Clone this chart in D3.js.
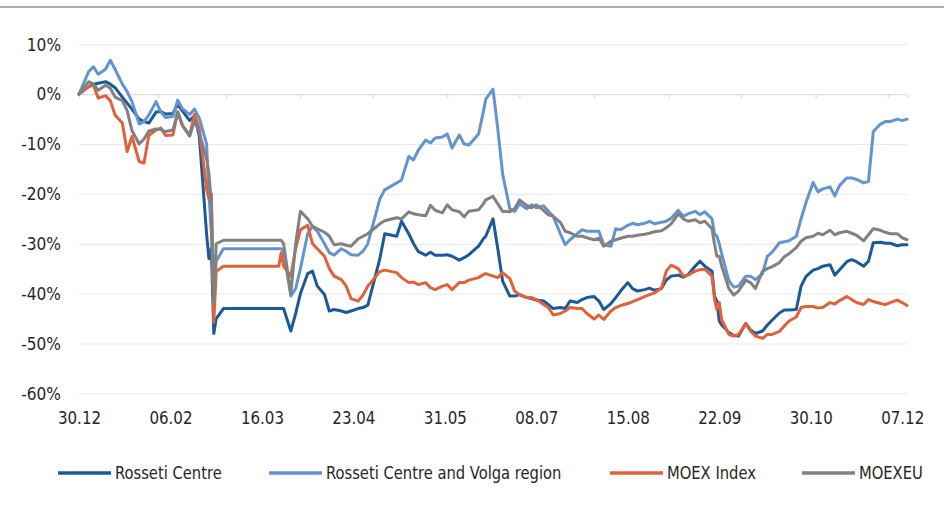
<!DOCTYPE html>
<html><head><meta charset="utf-8">
<script src="https://cdn.jsdelivr.net/npm/d3@7"></script>
<style>
body{margin:0;background:#fff;}
svg{display:block;}
text{font-family:"Liberation Sans Narrow","Arial Narrow","DejaVu Sans Condensed",sans-serif;fill:#262626;}
</style></head>
<body>
<svg id="chart" width="944" height="508"></svg>
<script>
const dates = ["2021-12-30",
"2022-01-03","2022-01-05","2022-01-07","2022-01-10","2022-01-12","2022-01-14","2022-01-17","2022-01-19","2022-01-21","2022-01-24","2022-01-26","2022-01-28","2022-01-31",
"2022-02-02","2022-02-04","2022-02-07","2022-02-09","2022-02-11","2022-02-14","2022-02-16","2022-02-18","2022-02-21","2022-02-22","2022-02-23","2022-02-24","2022-02-25","2022-02-28",
"2022-03-23","2022-03-24","2022-03-25","2022-03-28","2022-03-30",
"2022-04-01","2022-04-04","2022-04-06","2022-04-08","2022-04-11","2022-04-13","2022-04-15","2022-04-18","2022-04-20","2022-04-22","2022-04-25","2022-04-27","2022-04-29",
"2022-05-04","2022-05-06","2022-05-11","2022-05-13","2022-05-16","2022-05-18","2022-05-20","2022-05-23","2022-05-25","2022-05-27","2022-05-30",
"2022-06-01","2022-06-03","2022-06-06","2022-06-08","2022-06-10","2022-06-14","2022-06-16","2022-06-17","2022-06-20","2022-06-22","2022-06-24","2022-06-27","2022-06-29",
"2022-07-01","2022-07-04","2022-07-06","2022-07-08","2022-07-11","2022-07-13","2022-07-15","2022-07-18","2022-07-20","2022-07-22","2022-07-25","2022-07-27","2022-07-29",
"2022-08-01","2022-08-03","2022-08-05","2022-08-08","2022-08-10","2022-08-12","2022-08-15","2022-08-17","2022-08-19","2022-08-22","2022-08-24","2022-08-26","2022-08-29","2022-08-31",
"2022-09-02","2022-09-05","2022-09-07","2022-09-09","2022-09-12","2022-09-14","2022-09-16","2022-09-19","2022-09-20","2022-09-21","2022-09-22","2022-09-23","2022-09-26","2022-09-28","2022-09-30",
"2022-10-03","2022-10-05","2022-10-07","2022-10-10","2022-10-12","2022-10-14","2022-10-17","2022-10-19","2022-10-21","2022-10-24","2022-10-26","2022-10-28","2022-10-31",
"2022-11-02","2022-11-04","2022-11-07","2022-11-09","2022-11-11","2022-11-14","2022-11-16","2022-11-18","2022-11-21","2022-11-23","2022-11-25","2022-11-28","2022-11-30",
"2022-12-02","2022-12-05","2022-12-07","2022-12-09"];

const rossetiCentre = [0,
1.5,2.0,2.2,2.5,2.0,1.3,-0.6,-1.8,-3.0,-5.0,-5.5,-5.8,-3.6,
-3.5,-4.0,-3.9,-2.0,-3.4,-5.3,-4.3,-8.5,-28,-33,-31,-48,-45,-43,
-43,-43,-43,-47.5,-44,
-40,-36,-35.5,-38.5,-40.2,-43.5,-43.2,-43.5,-43.8,-43.5,-43,-42.8,-42.3,
-33,-28,-28.5,-25.5,-28,-30,-31.6,-32.3,-31.7,-32.3,-32.3,
-32.2,-32.5,-33.3,-32.8,-32.2,-30.5,-29,-28.5,-25,-31,-37.5,-40.5,-40.5,
-40.2,-40.8,-41,-41.3,-41.5,-42.2,-43,-42.8,-43,-41.5,-41.8,-41.2,-40.8,
-40.6,-41.5,-43.2,-42,-40.8,-39.5,-37.8,-39,-39.5,-39.2,-38.9,-39.3,-39,-37.3,
-36.5,-36.3,-36.7,-36.2,-34.5,-33.5,-34.5,-35.5,-40.5,-41.5,-45.5,-46.3,-47.8,-48.4,-48.5,
-46,-47.3,-48,-47.5,-46.3,-45.3,-43.9,-43.3,-43.3,-43.2,-38.5,-36.6,-35.3,
-35,-34.5,-34.2,-36.3,-35.2,-33.6,-33.2,-33.6,-34.5,-33.5,-29.8,-29.7,-29.9,
-29.9,-30.4,-30.2,-30.2];

const rossetiCentreVolga = [0,
4.5,5.5,4.0,5.0,6.8,5.0,2.0,0.5,-1.5,-6.0,-5.5,-4.2,-1.5,
-3.6,-4.7,-4.5,-1.2,-2.9,-4.1,-3.0,-4.8,-10,-20,-28,-41,-33.5,-31,
-31,-31,-31.5,-40.5,-39,
-35,-28,-26.5,-27.5,-30,-31.8,-32.3,-31,-31.5,-32.2,-32.3,-31.5,-30,
-21,-19.2,-17.8,-17.2,-12.5,-13.2,-11.2,-9.2,-9.8,-8.8,-8.6,
-8.0,-10.8,-8.2,-10,-10.2,-8,-3.5,-1,1.0,-7,-16,-23,-23.5,
-22,-23,-22.2,-22.8,-22.4,-23.5,-24.5,-28,-30.2,-29.2,-28,-27.2,-27.5,
-27.5,-27.5,-30.2,-30.5,-27,-27.2,-26.3,-25.9,-26.2,-25.9,-25.5,-26,-25.7,-25.5,
-24.9,-23.3,-24.5,-24,-23.5,-24.2,-23.6,-25,-28,-28.5,-30,-32,-37.4,-38.7,-38.5,
-36.5,-36.5,-37.2,-36,-32.5,-31.7,-29.8,-29.6,-29.4,-28.5,-25,-21.8,-17.7,
-19.6,-19,-18.6,-20.4,-18.3,-16.8,-16.8,-17.1,-17.8,-17.5,-7.5,-6.0,-5.5,
-5.5,-5.0,-5.3,-5.0];

const moexIndex = [0,
1.5,1.8,-0.8,-0.3,-1.3,-4.2,-5.8,-11.5,-8.5,-13.5,-13.8,-8.3,-7.2,
-6.8,-8.3,-8.2,-3.5,-6.3,-8.2,-4.0,-7.0,-19,-21,-20,-45.8,-35.5,-34.5,
-34.5,-31.8,-34.5,-36.5,-31,
-27.2,-26.3,-30,-31,-32.5,-35,-36.5,-37.2,-38.5,-41,-41.5,-40.3,-38.5,
-35.6,-35.3,-35.8,-36.8,-37.8,-37.7,-38.2,-37.8,-38.8,-39.2,-38.5,
-38.2,-39.2,-37.8,-37.8,-37.3,-36.8,-36.2,-36,-36.5,-36.8,-35.8,-37,-39.5,
-40.2,-40.8,-40.8,-41.2,-42.2,-42.8,-44.3,-44,-43.5,-42.8,-43,-43,-44,
-45.1,-44.3,-45.2,-43.5,-42.8,-42.4,-42,-41.6,-41.2,-40.6,-40.2,-39.9,-38.9,-35.5,
-34.3,-35,-36.5,-36.3,-35.5,-35.2,-35.1,-36.5,-41,-43.2,-41.8,-45.2,-48.2,-48.5,-48.2,
-46,-47.5,-48.5,-49,-48.2,-48.2,-47.6,-46.5,-45.5,-44.7,-42.8,-42.6,-42.6,
-42.9,-42.8,-41.8,-42.1,-41.4,-40.6,-41.2,-41.8,-42.2,-41.2,-41.6,-42,-42.2,
-41.8,-41.3,-41.8,-42.4];

const moexeu = [0,
2.5,2.0,0.8,1.8,1.2,-0.6,-1.3,-3.3,-7.3,-10,-9,-7.4,-7.0,
-7.1,-7.5,-7.2,-3.7,-6.3,-8.4,-5.3,-7.8,-13,-16,-22,-42,-30,-29.3,
-29.3,-29.3,-30,-40,-30,
-23.5,-25,-26.5,-27,-27.7,-28.5,-30.2,-30,-30.3,-30.5,-29,-28.5,-28,
-26,-25.4,-24.8,-25,-23.6,-24,-24.2,-24.4,-22.3,-23.3,-23.8,
-22.2,-23.2,-23.6,-24.6,-23.5,-23.2,-22,-21.2,-20.5,-22,-23.5,-23.6,-23,
-21.2,-22.3,-22.8,-22.2,-23.3,-24.2,-24.5,-25.7,-27.5,-27.8,-28.5,-28.5,-28.8,
-29.2,-28.9,-30.5,-29.5,-29.2,-28.9,-28.5,-28.5,-28.3,-28.1,-27.9,-27.6,-27.4,-26.8,
-26,-24,-25,-25.5,-25.2,-25.8,-25.5,-27,-30,-32.5,-32.5,-34.5,-39,-40.3,-39.5,
-37.3,-37.8,-39,-35.5,-35,-34.6,-33.8,-32.6,-32,-30.8,-29.5,-28.8,-28.5,
-27.9,-28.2,-27.3,-28.2,-27.8,-27.5,-27.9,-28.3,-29.4,-28.2,-27,-27.3,-27.7,
-28,-28,-28.8,-29.2];

const seriesNames = ["Rosseti Centre","Rosseti Centre and Volga region","MOEX Index","MOEXEU"];
const seriesColors = ["#1b5a96","#6394d0","#e0623b","#818181"];
const yTicks = [10,0,-10,-20,-30,-40,-50,-60];
const xTickDates = ["2021-12-30","2022-02-06","2022-03-16","2022-04-23","2022-05-31","2022-07-08","2022-08-15","2022-09-22","2022-10-30","2022-12-07"];
const xTickLabels = ["30.12","06.02","16.03","23.04","31.05","08.07","15.08","22.09","30.10","07.12"];

const FONT = '"Liberation Sans Narrow","Arial Narrow","DejaVu Sans Condensed",sans-serif';
const parse = d3.utcParse("%Y-%m-%d");
const svg = d3.select("#chart");

// narrow text horizontally to mimic the condensed face
function condense(sel, k) {
  sel.each(function() {
    const w = this.getComputedTextLength();
    if (w > 0) d3.select(this).attr("textLength", w * k).attr("lengthAdjust", "spacingAndGlyphs");
  });
}

// top rule
svg.append("rect").attr("x",0).attr("y",6).attr("width",944).attr("height",2).attr("fill","#a9acaf");

const x = d3.scaleUtc().domain([parse("2021-12-30"), parse("2022-12-09")]).range([79, 907]);
const y = d3.scaleLinear().domain([-60, 10]).range([393.3, 44.3]);

// gridlines + y labels
const yAxis = svg.append("g").attr("transform","translate(79,0)")
  .call(d3.axisLeft(y).tickValues(yTicks).tickSize(-828).tickFormat(d => d + "%"));
yAxis.select(".domain").remove();
yAxis.selectAll(".tick line").attr("stroke","#e9e9e9").attr("stroke-width",1);
yAxis.selectAll(".tick text").attr("x",-18).attr("font-size",18).attr("fill","#262626")
  .style("font-family",FONT);
condense(yAxis.selectAll(".tick text"), 0.95);

// month tick marks on the zero line
const monthTicks = d3.utcMonth.range(parse("2022-02-01"), parse("2022-12-02"));
const zAxis = svg.append("g").attr("transform",`translate(0,${y(0)})`)
  .call(d3.axisBottom(x).tickValues(monthTicks).tickSize(4).tickFormat(""));
zAxis.select(".domain").attr("stroke","#dcdcdc");
zAxis.selectAll(".tick line").attr("stroke","#d6d6d6");

// x labels
const xAxis = svg.append("g").attr("transform","translate(0,393.3)")
  .call(d3.axisBottom(x).tickValues(xTickDates.map(parse)).tickSize(0)
    .tickFormat((d,i) => xTickLabels[i]));
xAxis.select(".domain").remove();
xAxis.selectAll(".tick text").attr("dy","1.55em").attr("font-size",18).attr("fill","#262626")
  .style("font-family",FONT);
condense(xAxis.selectAll(".tick text"), 0.93);

// lines
const allSeries = [rossetiCentre, rossetiCentreVolga, moexIndex, moexeu];
const line = d3.line().x(d => x(d.date)).y(d => y(d.v));
allSeries.forEach((vals, i) => {
  const data = dates.map((d, j) => ({date: parse(d), v: vals[j]}));
  svg.append("path").datum(data).attr("d", line)
    .attr("fill","none").attr("stroke",seriesColors[i]).attr("stroke-width",3)
    .attr("stroke-linejoin","round").attr("stroke-linecap","round");
});

// legend
const legendX = [58, 269, 610, 802];
const lg = svg.append("g");
seriesNames.forEach((name, i) => {
  lg.append("line").attr("x1",legendX[i]).attr("x2",legendX[i]+53).attr("y1",473).attr("y2",473)
    .attr("stroke",seriesColors[i]).attr("stroke-width",3.5);
  lg.append("text").attr("x",legendX[i]+57).attr("y",473).attr("dy","0.35em")
    .attr("font-size",18).text(name);
});
condense(lg.selectAll("text"), 0.91);
</script>
</body></html>
